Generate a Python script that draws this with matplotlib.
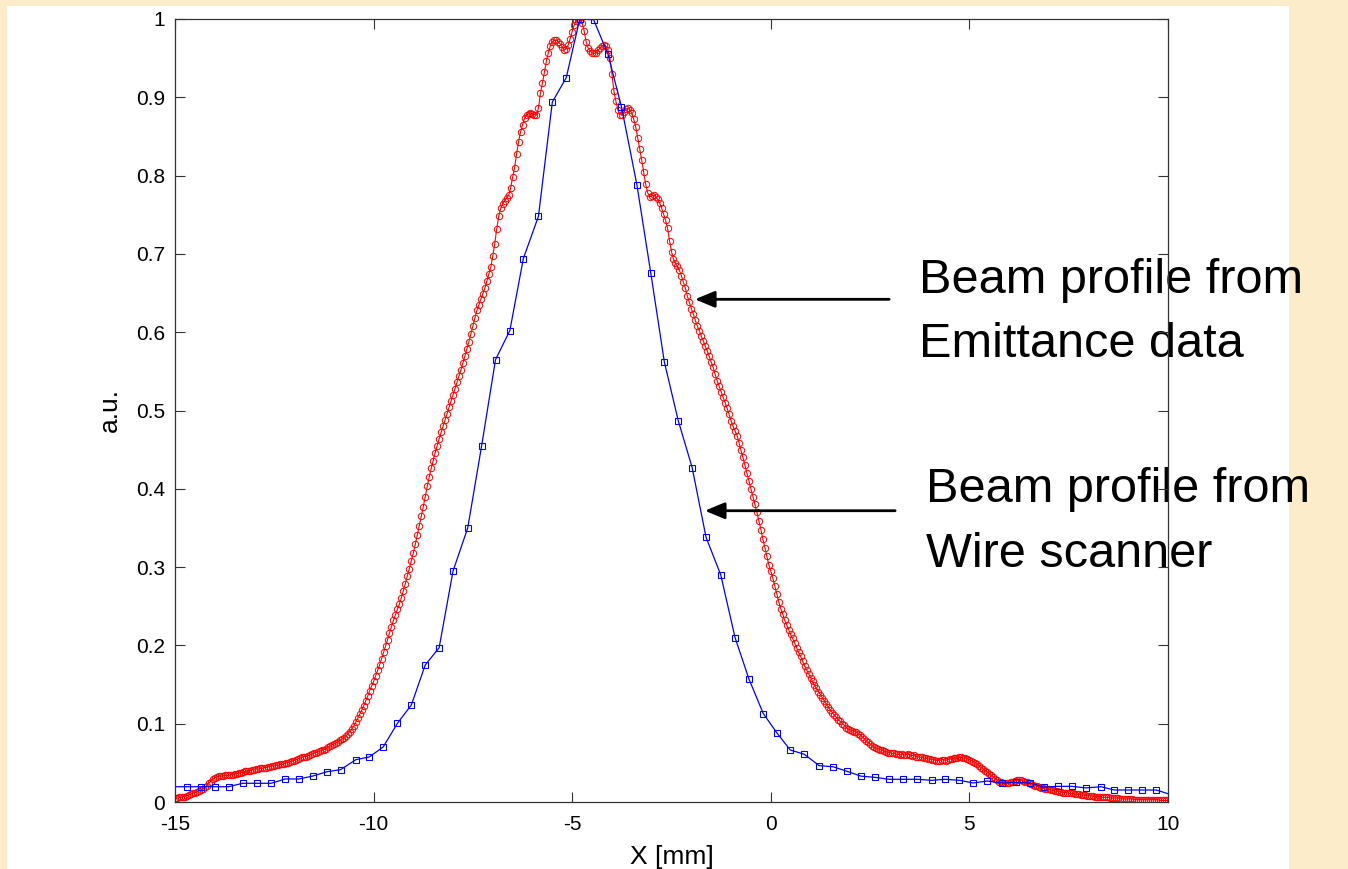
import numpy as np
import matplotlib
matplotlib.use("Agg")
import matplotlib.pyplot as plt
from matplotlib.patches import Rectangle

plt.rcParams['font.family'] = ['Liberation Sans', 'DejaVu Sans']

# Wire scanner profile (blue squares), first/last points lie just outside the axes
wire_x = [-15.04, -14.69, -14.35, -13.99, -13.65, -13.30, -12.94, -12.58, -12.23, -11.88,
          -11.53, -11.17, -10.83, -10.45, -10.11, -9.76, -9.40, -9.05, -8.70, -8.35,
          -8.00, -7.63, -7.28, -6.93, -6.57, -6.23, -5.85, -5.50, -5.15, -4.81,
          -4.46, -4.10, -3.76, -3.37, -3.02, -2.68, -2.33, -1.98, -1.63, -1.26,
          -0.90, -0.55, -0.19, 0.15, 0.49, 0.84, 1.22, 1.57, 1.93, 2.27,
          2.62, 2.98, 3.34, 3.69, 4.05, 4.39, 4.75, 5.09, 5.45, 5.81,
          6.17, 6.52, 6.88, 7.22, 7.58, 7.93, 8.31, 8.65, 9.00, 9.35,
          9.71, 10.06]
wire_y = [0.0195, 0.0195, 0.0195, 0.0195, 0.0195, 0.0239, 0.0239, 0.0239, 0.0294, 0.0294,
          0.0332, 0.0387, 0.0413, 0.054, 0.0575, 0.0702, 0.1005, 0.1239, 0.175, 0.197,
          0.295, 0.350, 0.455, 0.565, 0.602, 0.694, 0.748, 0.894, 0.925, 1.0,
          0.999, 0.955, 0.888, 0.788, 0.675, 0.562, 0.487, 0.427, 0.338, 0.290,
          0.210, 0.157, 0.113, 0.0885, 0.0664, 0.061, 0.0464, 0.045, 0.039, 0.033,
          0.0315, 0.029, 0.029, 0.029, 0.0277, 0.029, 0.0277, 0.0243, 0.0268, 0.0243,
          0.025, 0.0243, 0.019, 0.020, 0.020, 0.018, 0.0195, 0.0153, 0.0153, 0.0153,
          0.0153, 0.0096]

# Emittance profile (red circles), sampled every 0.05 mm from -15 to 10
emit_x0 = -15.0
emit_dx = 0.05
emit_y = [
    .005, .005, .006, .006, .007, .007, .008, .009, .010, .011, .012, .013, .014, .015, .017, .019, .021, .024, .026, .029,
    .031, .032, .033, .033, .033, .034, .034, .034, .035, .035, .036, .036, .037, .037, .038, .039, .039, .040, .040, .041,
    .041, .042, .042, .043, .043, .044, .044, .045, .045, .046, .046, .047, .047, .048, .048, .049, .050, .050, .051, .052,
    .053, .054, .055, .056, .057, .058, .058, .059, .060, .061, .062, .063, .064, .065, .066, .067, .068, .070, .071, .073,
    .074, .075, .077, .079, .080, .082, .084, .087, .090, .093, .097, .102, .107, .112, .117, .123, .129, .135, .142, .148,
    .154, .161, .168, .175, .183, .191, .199, .207, .216, .224, .232, .239, .246, .253, .261, .270, .279, .289, .298, .308,
    .318, .329, .341, .353, .365, .377, .390, .403, .415, .426, .436, .446, .455, .464, .472, .480, .488, .496, .504, .512,
    .520, .528, .536, .544, .552, .561, .570, .579, .588, .598, .608, .618, .628, .635, .642, .649, .656, .665, .674, .683,
    .697, .713, .732, .748, .758, .764, .768, .771, .775, .784, .798, .810, .828, .843, .856, .865, .873, .877, .879, .880,
    .879, .878, .877, .886, .905, .918, .932, .946, .957, .966, .971, .973, .973, .971, .968, .964, .961, .962, .967, .975,
    .984, .992, .998, 1.00, .999, .995, .985, .971, .963, .959, .957, .956, .957, .960, .963, .966, .967, .965, .960, .950,
    .930, .908, .895, .884, .878, .877, .881, .885, .886, .884, .880, .872, .862, .848, .834, .820, .804, .789, .778, .773,
    .774, .775, .773, .770, .765, .759, .751, .743, .733, .717, .703, .693, .688, .684, .679, .672, .664, .656, .646, .638,
    .630, .623, .615, .608, .602, .595, .589, .582, .576, .569, .562, .555, .546, .538, .531, .524, .517, .510, .503, .495,
    .487, .480, .474, .468, .459, .449, .440, .430, .420, .410, .400, .390, .380, .370, .359, .348, .336, .325, .314, .303,
    .295, .286, .276, .266, .256, .247, .240, .232, .226, .220, .214, .209, .203, .197, .191, .186, .180, .174, .169, .164,
    .159, .154, .149, .145, .141, .137, .133, .129, .125, .121, .117, .114, .111, .108, .105, .103, .100, .098, .095, .093,
    .092, .091, .090, .089, .087, .086, .083, .081, .078, .076, .074, .072, .070, .069, .068, .067, .066, .065, .064, .063,
    .063, .062, .062, .061, .061, .060, .061, .060, .060, .061, .060, .059, .060, .058, .058, .057, .057, .056, .056, .055,
    .055, .054, .054, .053, .053, .053, .054, .054, .053, .054, .055, .055, .056, .056, .056, .057, .057, .056, .056, .055,
    .054, .053, .051, .050, .048, .046, .044, .042, .040, .038, .036, .034, .032, .030, .028, .026, .025, .024, .024, .024,
    .024, .025, .026, .027, .028, .028, .028, .027, .026, .025, .024, .023, .022, .021, .020, .019, .018, .018, .017, .016,
    .016, .015, .015, .014, .014, .013, .013, .012, .012, .012, .011, .011, .011, .010, .010, .010, .009, .009, .009, .008,
    .008, .008, .008, .007, .007, .007, .007, .006, .006, .006, .006, .005, .005, .005, .005, .005, .004, .004, .004, .004,
    .004, .004, .004, .003, .003, .003, .003, .003, .003, .003, .003, .003, .003, .003, .003, .003, .002, .002, .002, .002,
    .002]
emit_x = emit_x0 + emit_dx * np.arange(len(emit_y))

xtick_vals = [-15, -10, -5, 0, 5, 10]
ytick_vals = [0, 0.1, 0.2, 0.3, 0.4, 0.5, 0.6, 0.7, 0.8, 0.9, 1.0]
ytick_labels = ['0', '0.1', '0.2', '0.3', '0.4', '0.5', '0.6', '0.7', '0.8', '0.9', '1']

W, H = 1348, 869
fig = plt.figure(figsize=(W / 100, H / 100), dpi=100, facecolor='#fcecc9')
# white plot panel on the slide
fig.patches.append(Rectangle((7 / W, -0.01), (1289 - 7) / W, (869 - 6) / H + 0.01,
                             transform=fig.transFigure, facecolor='white',
                             edgecolor='none', zorder=-5))

ax = fig.add_axes([175 / W, 1 - 802 / H, (1168 - 175) / W, (802 - 19) / H])
ax.set_facecolor('white')

ax.plot(emit_x, emit_y, '-', color='red', lw=0.8, marker='o', ms=4.6,
        mfc='none', mec='red', mew=0.7, zorder=2)
ax.plot(wire_x, wire_y, '-', color='blue', lw=0.9, zorder=2.2)
ax.plot(wire_x[1:-1], wire_y[1:-1], 's', ms=4.8, mfc='none', mec='blue',
        mew=0.8, zorder=2.2)

ax.set_xlim(-15, 10)
ax.set_ylim(0, 1)
ax.set_xticks(xtick_vals)
ax.set_xticklabels([str(v) for v in xtick_vals])
ax.set_yticks(ytick_vals)
ax.set_yticklabels(ytick_labels)
ax.tick_params(direction='in', length=7.5, width=0.8, color='#333333',
               top=True, right=True, labelsize=15)
ax.tick_params(axis='x', pad=9)
ax.tick_params(axis='y', pad=7)
for s in ax.spines.values():
    s.set_color('#333333')
    s.set_linewidth(0.9)

ax.set_xlabel('X [mm]', fontsize=19, labelpad=8)
ax.set_ylabel('a.u.', fontsize=19, labelpad=10)

# annotations
txt = dict(fontsize=35, color='black', zorder=1, clip_on=False, va='baseline', ha='left')
ax.text(3.73, 0.650, 'Beam profile from', **txt)
ax.text(3.73, 0.568, 'Emittance data', **txt)
ax.text(3.91, 0.383, 'Beam profile from', **txt)
ax.text(3.91, 0.300, 'Wire scanner', **txt)

arrow = dict(arrowstyle='-|>,head_length=0.6,head_width=0.25', color='black',
             lw=2, mutation_scale=20, shrinkA=0, shrinkB=0)
ax.annotate('', xy=(-1.91, 0.642), xytext=(2.98, 0.642), arrowprops=arrow,
            annotation_clip=False)
ax.annotate('', xy=(-1.66, 0.372), xytext=(3.13, 0.372), arrowprops=arrow,
            annotation_clip=False)

fig.savefig('out.png', dpi=100, facecolor=fig.get_facecolor())
